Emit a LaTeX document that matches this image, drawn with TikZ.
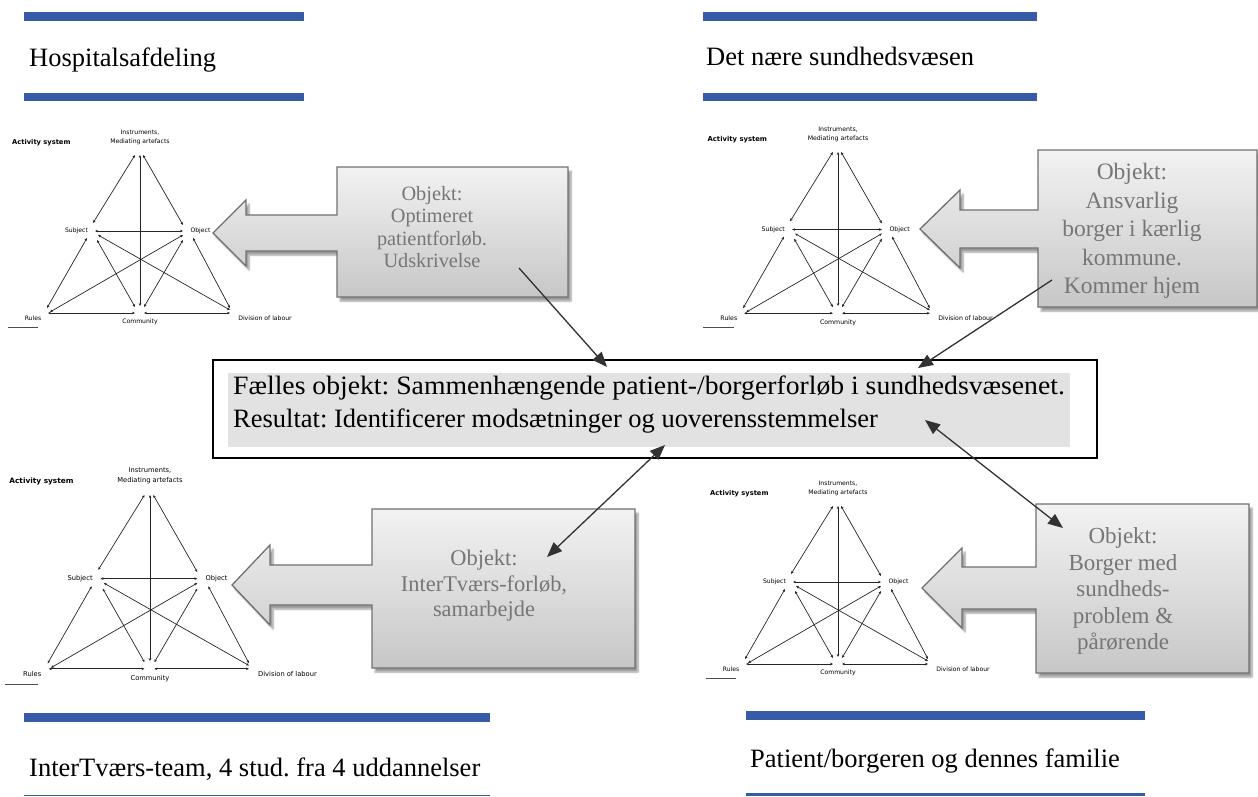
\documentclass[tikz,border=0pt]{standalone}
\usepackage{fontspec}
\setmainfont{Liberation Serif}
\newfontfamily\asfont{DejaVu Sans}
\usetikzlibrary{arrows.meta, shadows.blur}
\frenchspacing
\definecolor{barblue}{RGB}{55,91,166}
\definecolor{calloutgray}{RGB}{118,118,118}
\definecolor{calloutedge}{RGB}{112,112,112}
\definecolor{boxgray}{RGB}{226,226,226}
\definecolor{connclr}{RGB}{50,50,50}
\tikzset{
  bar/.style={fill=barblue, draw=none},
  headtext/.style={font=\fontsize{26.5}{30}\selectfont, anchor=base west, inner sep=0},
  aslabel/.style={font=\asfont\fontsize{6.1}{9}\selectfont, text=black, inner sep=0.5, transform shape, align=center},
  astitle/.style={font=\asfont\bfseries\fontsize{6.7}{8}\selectfont, text=black, inner sep=0, anchor=west, transform shape},
  asarrow/.style={{Stealth[length=3pt,width=2.6pt]}-{Stealth[length=3pt,width=2.6pt]}, line width=0.7pt, black!85},
  asunder/.style={line width=0.5pt, black!70},
  callout/.style={draw=calloutedge, line width=1.3pt, line join=miter, top color=black!5, bottom color=black!22,
    blur shadow={shadow xshift=3pt, shadow yshift=-4pt, shadow blur steps=6, shadow opacity=40}},
  callouttext/.style={text=calloutgray, align=center, inner sep=0},
  conn/.style={draw=connclr, line width=1.3pt, -{Triangle[length=15pt,width=12pt]}},
  connboth/.style={draw=connclr, line width=1.3pt, {Triangle[length=15pt,width=12pt]}-{Triangle[length=15pt,width=12pt]}},
}
% activity system: #1 prefix, #2 #3 apex position, #4 scale
\newcommand\actsys[4]{%
\begin{scope}[shift={(#2,#3)},scale=#4]
\node[astitle] (#1-title) at (-128,-12) {Activity system};
\node[aslabel] (#1-ins) at (0,-17.5) {Instruments,\\Mediating artefacts};
\node[aslabel] (#1-sub) at (-63.5,76) {Subject};
\node[aslabel] (#1-obj) at (60.5,76) {Object};
\node[aslabel] (#1-rul) at (-107,163) {Rules};
\node[aslabel] (#1-com) at (0,167) {Community};
\node[aslabel] (#1-div) at (125,163) {Division of labour};
\coordinate (#1-a1) at (-5,0); \coordinate (#1-a2) at (3,0); \coordinate (#1-a3) at (0,0);
\coordinate (#1-s1) at (-47,68); \coordinate (#1-o1) at (43,70); \coordinate (#1-c1) at (0,151);
\coordinate (#1-s2) at (-45,76); \coordinate (#1-o2) at (43,76);
\coordinate (#1-s3) at (-53,83); \coordinate (#1-r3) at (-93,153);
\coordinate (#1-s4) at (-43,85); \coordinate (#1-c4) at (-5,152);
\coordinate (#1-s5) at (-42,80); \coordinate (#1-d5) at (90,155);
\coordinate (#1-o6) at (43,80); \coordinate (#1-r6) at (-90,157);
\coordinate (#1-o7) at (43,85); \coordinate (#1-c7) at (4,152);
\coordinate (#1-o8) at (53,83); \coordinate (#1-d8) at (90,153);
\coordinate (#1-r9) at (-92,158); \coordinate (#1-c9) at (-5,158);
\coordinate (#1-c10) at (4,158); \coordinate (#1-d10) at (90,158);
\coordinate (#1-u1) at (-132,172); \coordinate (#1-u2) at (-102,172);
\draw[asarrow] (#1-a1) -- (#1-s1);
\draw[asarrow] (#1-a2) -- (#1-o1);
\draw[asarrow] (#1-a3) -- (#1-c1);
\draw[asarrow] (#1-s2) -- (#1-o2);
\draw[asarrow] (#1-s3) -- (#1-r3);
\draw[asarrow] (#1-s4) -- (#1-c4);
\draw[asarrow] (#1-s5) -- (#1-d5);
\draw[asarrow] (#1-o6) -- (#1-r6);
\draw[asarrow] (#1-o7) -- (#1-c7);
\draw[asarrow] (#1-o8) -- (#1-d8);
\draw[asarrow] (#1-r9) -- (#1-c9);
\draw[asarrow] (#1-c10) -- (#1-d10);
\draw[asunder] (#1-u1) -- (#1-u2);
\end{scope}}
% block arrow: tipx tipy headbase headhalf shafthalf bodyleft bodytop bodyright bodybottom
\newcommand\blockarrow[9]{%
\path[callout] (#1,#2) -- (#3,{#2-#4}) -- (#3,{#2-#5}) -- (#6,{#2-#5}) -- (#6,#7) -- (#8,#7)
  -- (#8,#9) -- (#6,#9) -- (#6,{#2+#5}) -- (#3,{#2+#5}) -- (#3,{#2+#4}) -- cycle;}
\begin{document}
\begin{tikzpicture}[x=1pt,y=-1pt]
\useasboundingbox (0,0) rectangle (1258,796);
% headers
\fill[bar] (24,12) rectangle (304,20.5);
\fill[bar] (24,93) rectangle (304,100.5);
\node[headtext] (h1) at (29,66) {Hospitalsafdeling};
\fill[bar] (703,12) rectangle (1037,20.5);
\fill[bar] (703,93) rectangle (1037,100.5);
\node[headtext] (h2) at (706,65) {Det nære sundhedsvæsen};
\fill[bar] (24,713) rectangle (490,722);
\fill[bar] (24,794.5) rectangle (490,795.8);
\node[headtext] (h3) at (29,776) {InterTværs-team, 4 stud. fra 4 uddannelser};
\fill[bar] (746,711) rectangle (1145,720);
\fill[bar] (746,793) rectangle (1145,796);
\node[headtext] (h4) at (750,767) {Patient/borgeren og dennes familie};
% activity systems
\actsys{tl}{140}{155}{1}
\actsys{tr}{838}{152}{1.02}
\actsys{bl}{150}{495}{1.1}
\actsys{br}{838}{506}{1}
% callouts
\blockarrow{213}{233}{246}{33}{18}{337}{167}{568}{297}
\node[callouttext, font=\fontsize{20.3}{22.4}\selectfont] (tl-obj) at (432,227) {Objekt:\\Optimeret\\patientforløb.\\Udskrivelse};
\blockarrow{920}{229}{960}{39}{19}{1038}{150}{1257}{307}
\node[callouttext, font=\fontsize{23.5}{28.5}\selectfont] (tr-obj) at (1132,231) {Objekt:\\Ansvarlig\\borger i kærlig\\kommune.\\Kommer hjem};
\blockarrow{232}{585}{270}{40}{20}{372}{509}{635}{668}
\node[callouttext, font=\fontsize{22.4}{25.5}\selectfont] (bl-obj) at (484,586) {Objekt:\\InterTværs-forløb,\\samarbejde};
\blockarrow{922}{588}{962}{40}{21}{1036}{504}{1249}{673}
\node[callouttext, font=\fontsize{23}{26.5}\selectfont] (br-obj) at (1123,591) {Objekt:\\Borger med\\sundheds-\\problem \&\\pårørende};
% central box
\node[draw=black, line width=2pt, minimum width=884pt, minimum height=98pt, inner sep=0] (main) at (655,409) {};
\node[fill=boxgray, minimum width=842pt, minimum height=74pt, inner sep=0] (mainfill) at (649,410) {};
\node[anchor=north west, align=left, inner sep=0, font=\fontsize{26.5}{33}\selectfont] (maintext) at (233,376)
  {\scalebox{1.045}[1]{Fælles objekt: Sammenhængende patient-/borgerforløb i sundhedsvæsenet.}\\Resultat: Identificerer modsætninger og uoverensstemmelser};
% connectors
\coordinate (k1s) at (519,268); \coordinate (k1e) at (607,367);
\coordinate (k2s) at (1052,280); \coordinate (k2e) at (918,368);
\coordinate (k3s) at (665,445); \coordinate (k3e) at (547,557);
\coordinate (k4s) at (925,420); \coordinate (k4e) at (1063,528);
\draw[conn] (k1s) -- (k1e);
\draw[conn] (k2s) -- (k2e);
\draw[connboth] (k3s) -- (k3e);
\draw[connboth] (k4s) -- (k4e);
\end{tikzpicture}
\end{document}
